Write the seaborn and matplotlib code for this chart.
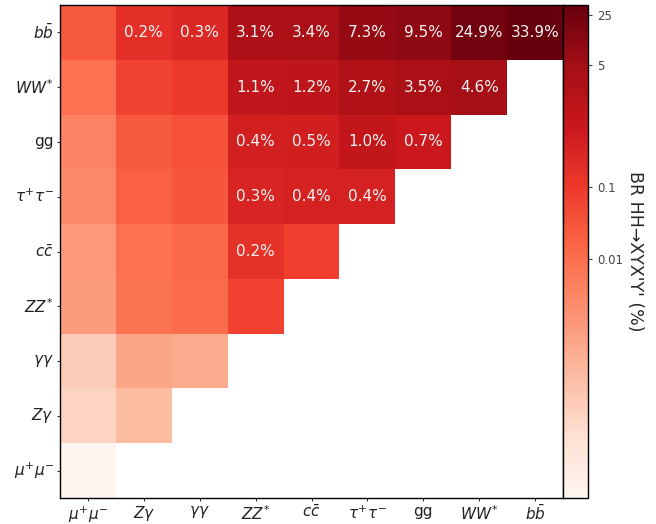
import numpy as np
import pandas as pd
import matplotlib
matplotlib.use("Agg")
import matplotlib.pyplot as plt
import seaborn as sns
from matplotlib.colors import LogNorm

# ---------------------------------------------------------------
# Data: BR(HH -> XX Y'Y') in %, rows top->bottom, cols left->right
# ---------------------------------------------------------------
row_labels = [r"$b\bar{b}$", r"$WW^{*}$", "gg", r"$\tau^{+}\tau^{-}$", r"$c\bar{c}$",
              r"$ZZ^{*}$", r"$\gamma\gamma$", r"$Z\gamma$", r"$\mu^{+}\mu^{-}$"]
col_labels = [r"$\mu^{+}\mu^{-}$", r"$Z\gamma$", r"$\gamma\gamma$", r"$ZZ^{*}$", r"$c\bar{c}$",
              r"$\tau^{+}\tau^{-}$", "gg", r"$WW^{*}$", r"$b\bar{b}$"]

nan = np.nan
row_bb = [0.0253, 0.179, 0.264, 3.06, 3.37, 7.31, 9.54, 24.9, 33.9]
row_ww = [0.0093, 0.0655, 0.097, 1.12, 1.24, 2.68, 3.50, 4.57, nan]
row_gg = [0.00356, 0.0251, 0.0372, 0.429, 0.473, 1.03, 0.670, nan, nan]
row_tt = [0.00273, 0.0192, 0.0285, 0.329, 0.363, 0.393, nan, nan, nan]
row_cc = [0.00126, 0.00886, 0.0131, 0.151, 0.0836, nan, nan, nan, nan]
row_zz = [0.00114, 0.00803, 0.0119, 0.0686, nan, nan, nan, nan, nan]
row_aa = [9.88e-5, 6.96e-4, 5.15e-4, nan, nan, nan, nan, nan, nan]
row_za = [6.67e-5, 2.35e-4, nan, nan, nan, nan, nan, nan, nan]
row_mm = [4.74e-6, nan, nan, nan, nan, nan, nan, nan, nan]

cbar_ticks = [25, 5, 0.1, 0.01]
cbar_ticklabels = ["25", "5", "0.1", "0.01"]

df = pd.DataFrame([row_bb, row_ww, row_gg, row_tt, row_cc, row_zz, row_aa, row_za, row_mm],
                  index=row_labels, columns=col_labels)

# only label the cells above 0.1 %
labels = df.map(lambda v: f"{v:.1f}%" if v >= 0.1 else "")

sns.set_style("ticks")

fig = plt.figure(figsize=(6.56, 5.24), dpi=100)
ax = fig.add_axes([0.0915, 0.0496, 0.7668, 0.9408])
cax = fig.add_axes([0.8582, 0.0496, 0.0381, 0.9408])

norm = LogNorm(vmin=np.nanmin(df.values), vmax=np.nanmax(df.values))
sns.heatmap(df, ax=ax, cbar_ax=cax, cmap="Reds", norm=norm,
            annot=labels.values, fmt="", annot_kws={"color": "#f2f2f2", "fontsize": 11},
            mask=df.isna(), square=False)

ax.tick_params(axis="both", labelsize=11, length=2.5, pad=2, colors="#333333", labelcolor="#222222")
ax.set_xticklabels(col_labels, rotation=0)
ax.set_yticklabels(row_labels, rotation=0)
for s in ax.spines.values():
    s.set_visible(True)
    s.set_color("black")
    s.set_linewidth(1)

cbar = ax.collections[0].colorbar
cbar.set_ticks(cbar_ticks)
cbar.set_ticklabels(cbar_ticklabels)
cbar.ax.minorticks_off()
cbar.ax.tick_params(labelsize=8.5, length=3, colors="#444444")
cbar.outline.set_visible(True)
cbar.outline.set_edgecolor("black")
cbar.outline.set_linewidth(1)
cbar.set_label("BR HH\u2192XYX'Y' (%)", rotation=270, labelpad=15, fontsize=12.5)

fig.savefig("out.png", dpi=100)
